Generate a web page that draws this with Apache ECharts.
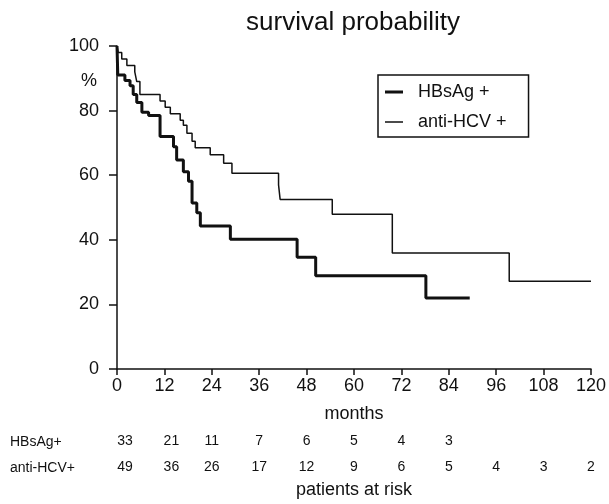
<!DOCTYPE html>
<html>
<head>
<meta charset="utf-8">
<script src="https://cdn.jsdelivr.net/npm/echarts@6/dist/echarts.min.js"></script>
<style>
  html, body { margin: 0; padding: 0; background: #fff; }
  #main { width: 609px; height: 504px; }
</style>
</head>
<body>
<div id="main"></div>
<script>
// Kaplan-Meier steps: [months, survival %]
var hbsag = [
  [0, 100], [0.2, 91], [2, 89.3], [3.3, 87.7], [4.1, 85], [5, 82.5], [6.3, 79.5],
  [8, 78.5], [10.9, 72], [14.3, 68.8], [15.1, 64.7], [16.8, 61.1], [18.1, 58.1],
  [19, 51.4], [20.2, 48.4], [21.1, 44.3], [28.7, 40.2], [45.6, 34.6], [50.3, 28.9],
  [78.2, 22], [89.3, 22]
];
var antiHcv = [
  [0, 100], [0.3, 98], [1.2, 96], [2.5, 94], [4.5, 92], [5, 89], [5.8, 85],
  [10.9, 83], [12.2, 81], [13.5, 79], [16, 77], [16.8, 75.5], [17.7, 73],
  [19, 70.5], [19.8, 68.5], [23.6, 66.3], [27, 63.7], [29.1, 60.6], [40.9, 57],
  [41.3, 52.5], [54.5, 47.9], [69.7, 35.9], [99.3, 27.2], [120, 27.2]
];
var monthTicks = [0, 12, 24, 36, 48, 60, 72, 84, 96, 108, 120];
var riskHbsag = [33, 21, 11, 7, 6, 5, 4, 3];
var riskHcv = [49, 36, 26, 17, 12, 9, 6, 5, 4, 3, 2];

var font = "'Liberation Sans', Arial, sans-serif";
// legend line icons (tiny corner dots keep the 18x14 box)
var thickIcon = "path://M0,0h0.01v0.01h-0.01z M0,5.5h18v3h-18z M17.99,13.99h0.01v0.01h-0.01z";
var thinIcon = "path://M0,0h0.01v0.01h-0.01z M0,6.3h18v1.5h-18z M17.99,13.99h0.01v0.01h-0.01z";
// the first two columns of the table sit a bit right of their ticks
var colShift = [8, 7, 0, 0, 0, 0, 0, 0, 0, 0, 0];

function riskAxis(counts, offset) {
  var rich = {};
  colShift.forEach(function (s, i) {
    rich["c" + i] = { fontFamily: font, fontSize: 14, color: "#111", padding: [0, 0, 0, s * 2] };
  });
  return {
    type: "value",
    min: 0,
    max: 120,
    interval: 12,
    position: "bottom",
    offset: offset,
    axisLine: { show: false },
    axisTick: { show: false },
    splitLine: { show: false },
    axisLabel: {
      showMinLabel: true,
      showMaxLabel: true,
      margin: 8,
      color: "#111",
      fontFamily: font,
      fontSize: 14,
      rich: rich,
      formatter: function (v) {
        var i = monthTicks.indexOf(v);
        return i >= 0 && i < counts.length ? "{c" + i + "|" + counts[i] + "}" : "";
      }
    }
  };
}

var myChart = echarts.init(document.getElementById("main"));
var option = {
  animation: false,
  backgroundColor: "#fff",
  title: {
    text: "survival probability",
    left: 348,
    top: 5,
    textAlign: "center",
    textStyle: { fontFamily: font, fontSize: 26, fontWeight: "normal", color: "#111" }
  },
  legend: {
    orient: "vertical",
    left: 378,
    top: 75,
    padding: [7, 22, 5, 7],
    itemGap: 10,
    itemWidth: 18,
    itemHeight: 14,
    borderColor: "#111",
    borderWidth: 1.5,
    textStyle: { fontFamily: font, fontSize: 18, color: "#111", lineHeight: 20, padding: [0, 0, 0, 10] },
    data: [
      { name: "HBsAg +", icon: thickIcon, itemStyle: { color: "#111", borderWidth: 0 } },
      { name: "anti-HCV +", icon: thinIcon, itemStyle: { color: "#111", borderWidth: 0 } }
    ]
  },
  grid: { left: 117, right: 18, top: 46, bottom: 129 },
  xAxis: [
    {
      type: "value",
      min: 0,
      max: 120,
      interval: 12,
      name: "months",
      nameLocation: "middle",
      nameGap: 36,
      nameTextStyle: { fontFamily: font, fontSize: 18, color: "#111" },
      axisLine: { lineStyle: { color: "#111", width: 1.5 } },
      axisTick: { length: 6, lineStyle: { color: "#111", width: 1.5 } },
      splitLine: { show: false },
      axisLabel: { margin: 8, color: "#111", fontFamily: font, fontSize: 18, showMinLabel: true, showMaxLabel: true }
    },
    riskAxis(riskHbsag, 57),
    Object.assign(riskAxis(riskHcv, 83), {
      name: "patients at risk",
      nameLocation: "middle",
      nameGap: 29,
      nameTextStyle: { fontFamily: font, fontSize: 18, color: "#111" }
    })
  ],
  yAxis: {
    type: "value",
    min: 0,
    max: 100,
    interval: 20,
    axisLine: { show: true, lineStyle: { color: "#111", width: 1.5 } },
    axisTick: { show: true, length: 8, lineStyle: { color: "#111", width: 1.5 } },
    splitLine: { show: false },
    axisLabel: { margin: 18, color: "#111", fontFamily: font, fontSize: 18 }
  },
  graphic: [
    { type: "text", left: 81, top: 72, style: { text: "%", font: "18px " + font, fill: "#111" } },
    { type: "text", left: 10, top: 435, style: { text: "HBsAg+", font: "14px " + font, fill: "#111" } },
    { type: "text", left: 10, top: 461, style: { text: "anti-HCV+", font: "14px " + font, fill: "#111" } }
  ],
  series: [
    {
      name: "HBsAg +",
      type: "line",
      step: "end",
      symbol: "none",
      data: hbsag,
      lineStyle: { color: "#111", width: 3 },
      itemStyle: { color: "#111" }
    },
    {
      name: "anti-HCV +",
      type: "line",
      step: "end",
      symbol: "none",
      data: antiHcv,
      lineStyle: { color: "#111", width: 1.5 },
      itemStyle: { color: "#111" }
    }
  ]
};
myChart.setOption(option);
</script>
</body>
</html>
